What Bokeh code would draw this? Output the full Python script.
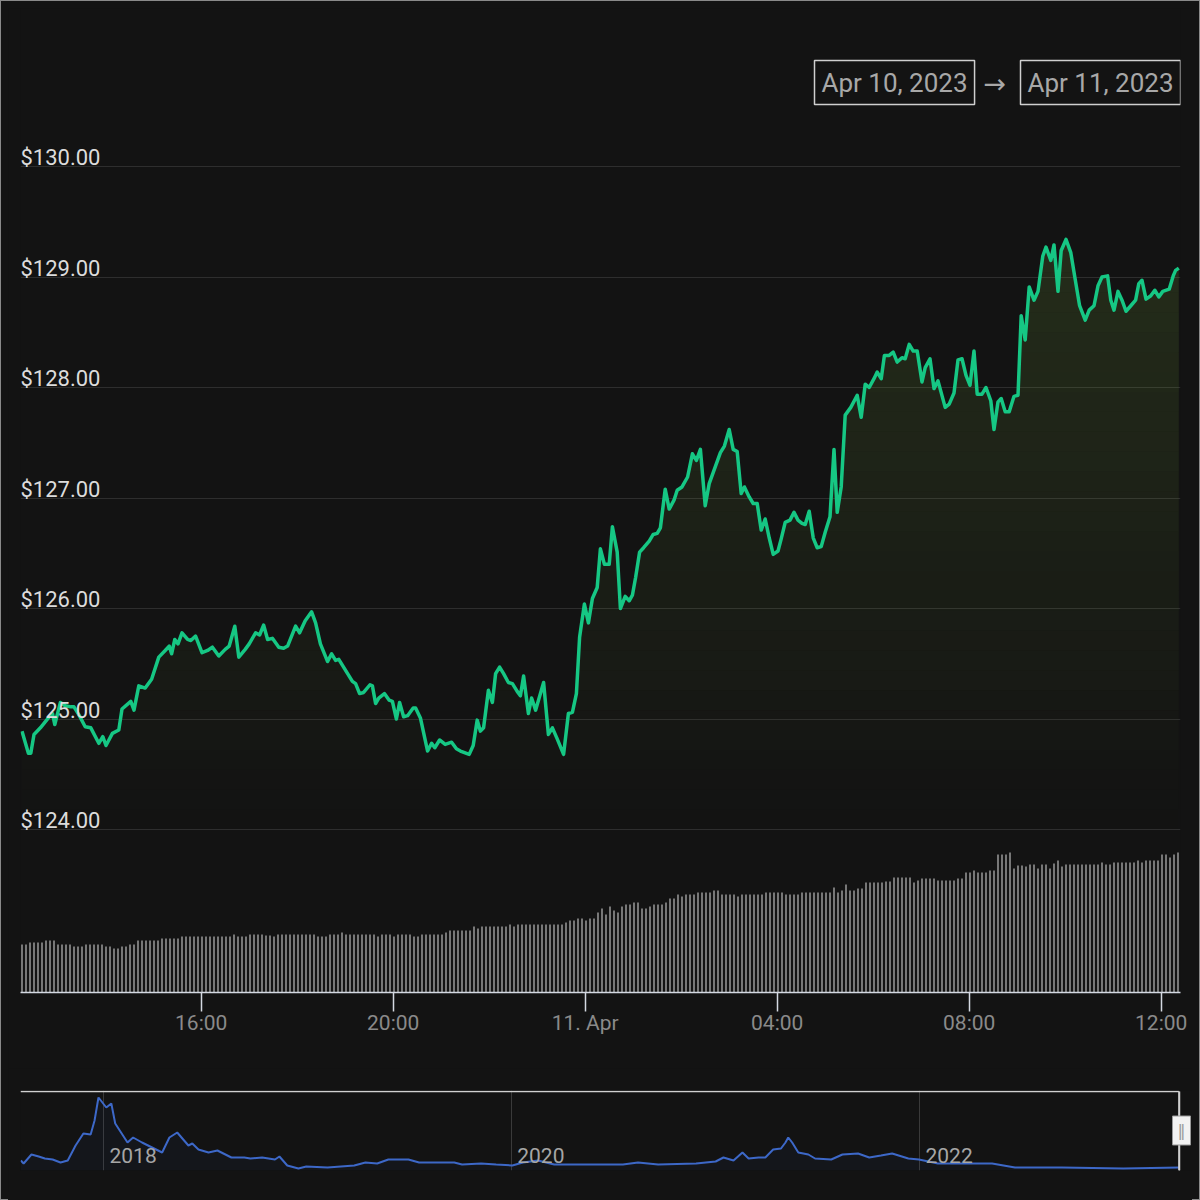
import numpy as np
import pandas as pd
from bokeh.plotting import figure
from bokeh.layouts import column
from bokeh.models import Range1d, FixedTicker, Label, GlobalInlineStyleSheet
from bokeh.core.properties import value
from bokeh.embed import file_html
from bokeh.resources import INLINE

# ---------------- data ----------------
START = "2023-04-10 12:16"          # first 5-minute sample
price_minutes = [
    0, 8, 11, 15, 23, 34, 38, 41, 48, 54, 61, 65, 71, 79, 86, 96, 101, 105, 113, 121,
    125, 136, 140, 146, 154, 162, 171, 179, 184, 187, 191, 195, 200, 207, 211, 217, 225, 232, 238, 246,
    254, 259, 266, 271, 279, 284, 292, 297, 302, 307, 313, 321, 327, 332, 342, 347, 354, 362, 367, 373,
    382, 387, 392, 396, 407, 413, 417, 422, 427, 435, 438, 442, 446, 453, 459, 463, 468, 472, 477, 482,
    489, 492, 498, 507, 512, 516, 522, 529, 537, 543, 548, 559, 564, 569, 573, 577, 583, 588, 592, 597,
    602, 608, 613, 619, 623, 627, 633, 637, 642, 652, 658, 663, 669, 677, 683, 688, 693, 697, 703, 708,
    713, 719, 723, 728, 734, 738, 744, 748, 754, 759, 763, 767, 772, 777, 784, 789, 794, 798, 804, 809,
    815, 819, 825, 832, 838, 843, 848, 854, 859, 867, 873, 878, 884, 889, 894, 899, 903, 909, 914, 919,
    924, 929, 934, 939, 945, 949, 954, 960, 965, 970, 975, 979, 984, 989, 994, 999, 1004, 1010, 1015, 1019,
    1024, 1029, 1036, 1044, 1049, 1054, 1059, 1065, 1069, 1074, 1078, 1084, 1089, 1094, 1100, 1104, 1109, 1114, 1119, 1125,
    1129, 1135, 1140, 1145, 1154, 1159, 1165, 1170, 1175, 1180, 1185, 1190, 1194, 1200, 1205, 1211, 1215, 1220, 1224, 1229,
    1234, 1240, 1245, 1249, 1254, 1259, 1265, 1270, 1276, 1280, 1286, 1290, 1295, 1299, 1305, 1311, 1316, 1322, 1329, 1334,
    1340, 1345, 1350, 1357, 1361, 1365, 1370, 1375, 1380, 1386, 1392, 1396, 1400, 1405, 1411, 1416, 1421, 1426, 1434, 1439,
    1442, 1446,
]
price_usd = [
    124.89, 124.69, 124.69, 124.86, 124.92, 125.02, 125.05, 124.95, 125.15, 125.12, 125.11, 125.11, 125.04, 124.93, 124.92, 124.78, 124.84, 124.76, 124.87, 124.90,
    125.09, 125.16, 125.08, 125.30, 125.28, 125.36, 125.56, 125.62, 125.66, 125.59, 125.72, 125.68, 125.78, 125.72, 125.71, 125.75, 125.60, 125.62, 125.65, 125.57,
    125.63, 125.66, 125.84, 125.56, 125.63, 125.68, 125.78, 125.76, 125.85, 125.72, 125.73, 125.65, 125.64, 125.66, 125.84, 125.78, 125.89, 125.97, 125.87, 125.68,
    125.52, 125.59, 125.53, 125.54, 125.41, 125.34, 125.32, 125.23, 125.24, 125.31, 125.30, 125.14, 125.19, 125.23, 125.17, 125.16, 125.00, 125.15, 125.02, 125.03,
    125.10, 125.10, 125.01, 124.71, 124.78, 124.74, 124.81, 124.77, 124.79, 124.73, 124.71, 124.68, 124.76, 124.99, 124.89, 124.92, 125.26, 125.15, 125.41, 125.47,
    125.41, 125.33, 125.32, 125.25, 125.21, 125.39, 125.05, 125.19, 125.08, 125.33, 124.86, 124.92, 124.82, 124.68, 125.05, 125.06, 125.23, 125.74, 126.04, 125.87,
    126.09, 126.19, 126.54, 126.40, 126.40, 126.74, 126.51, 126.00, 126.11, 126.07, 126.12, 126.28, 126.51, 126.55, 126.61, 126.67, 126.68, 126.73, 127.08, 126.90,
    126.98, 127.07, 127.10, 127.19, 127.40, 127.34, 127.44, 126.93, 127.13, 127.29, 127.41, 127.47, 127.62, 127.44, 127.42, 127.04, 127.10, 127.01, 126.95, 126.95,
    126.71, 126.81, 126.64, 126.49, 126.52, 126.63, 126.78, 126.80, 126.87, 126.80, 126.77, 126.76, 126.88, 126.64, 126.55, 126.56, 126.69, 126.83, 127.44, 126.87,
    127.10, 127.75, 127.82, 127.93, 127.73, 128.03, 128.00, 128.08, 128.14, 128.08, 128.29, 128.29, 128.32, 128.23, 128.27, 128.26, 128.39, 128.33, 128.33, 128.05,
    128.18, 128.26, 127.99, 128.06, 127.82, 127.85, 127.95, 128.25, 128.26, 128.11, 128.02, 128.33, 127.94, 127.94, 128.00, 127.88, 127.62, 127.87, 127.90, 127.78,
    127.78, 127.92, 127.93, 128.65, 128.43, 128.91, 128.79, 128.87, 129.19, 129.27, 129.15, 129.29, 128.87, 129.24, 129.34, 129.22, 129.00, 128.74, 128.61, 128.70,
    128.74, 128.92, 129.00, 129.01, 128.79, 128.70, 128.87, 128.79, 128.69, 128.74, 128.79, 128.94, 128.97, 128.80, 128.83, 128.88, 128.82, 128.87, 128.89, 129.01,
    129.06, 129.08,
]
# 24h volume, million USD, one bar every 5 minutes from START
volume_musd = [
    144, 144, 150, 150, 150, 150, 156, 156, 156, 144,
    144, 144, 144, 138, 138, 138, 144, 144, 144, 144,
    144, 138, 138, 132, 132, 138, 138, 144, 144, 156,
    156, 156, 156, 156, 156, 162, 162, 162, 162, 162,
    168, 168, 168, 168, 168, 168, 168, 168, 168, 168,
    168, 168, 168, 174, 168, 168, 168, 174, 174, 174,
    174, 171, 171, 168, 174, 174, 174, 174, 174, 174,
    174, 174, 174, 174, 168, 168, 168, 174, 174, 174,
    180, 174, 174, 174, 174, 174, 174, 174, 174, 168,
    174, 174, 174, 168, 174, 174, 174, 174, 168, 168,
    174, 174, 174, 174, 174, 174, 180, 186, 186, 186,
    186, 186, 186, 198, 192, 198, 198, 198, 198, 198,
    198, 198, 204, 198, 204, 204, 204, 204, 204, 204,
    204, 204, 204, 204, 204, 204, 210, 216, 216, 222,
    222, 216, 222, 222, 240, 252, 234, 258, 246, 240,
    258, 264, 264, 270, 270, 252, 252, 258, 264, 264,
    264, 270, 282, 282, 294, 288, 294, 294, 294, 300,
    300, 300, 300, 306, 306, 294, 294, 294, 294, 288,
    294, 294, 294, 294, 294, 294, 300, 300, 300, 300,
    300, 294, 294, 294, 294, 300, 300, 300, 300, 300,
    300, 300, 300, 315, 300, 306, 324, 306, 306, 312,
    312, 330, 330, 330, 330, 330, 333, 333, 345, 345,
    345, 345, 345, 330, 336, 342, 342, 342, 342, 336,
    336, 336, 336, 336, 342, 342, 360, 360, 366, 360,
    360, 360, 366, 366, 414, 414, 414, 420, 372, 381,
    381, 378, 384, 384, 372, 384, 384, 372, 387, 396,
    378, 384, 384, 384, 384, 384, 384, 384, 384, 384,
    390, 384, 384, 390, 390, 390, 390, 390, 390, 396,
    390, 396, 396, 396, 396, 414, 414, 405, 414, 420,
]
VOLUME_STEP_MIN = 5

x_tick_times = ["2023-04-10 16:00", "2023-04-10 20:00", "2023-04-11 00:00",
                "2023-04-11 04:00", "2023-04-11 08:00", "2023-04-11 12:00"]
x_tick_labels = ["16:00", "20:00", "11. Apr", "04:00", "08:00", "12:00"]
y_ticks = [124, 125, 126, 127, 128, 129, 130]
y_tick_labels = ["$124.00", "$125.00", "$126.00", "$127.00", "$128.00", "$129.00", "$130.00"]
range_from_label = "Apr 10, 2023"
range_to_label = "Apr 11, 2023"

nav_dates = [
    "2017-08-06", "2017-08-11", "2017-08-25", "2017-09-07", "2017-09-18", "2017-10-02", "2017-10-16", "2017-10-29",
    "2017-11-12", "2017-11-26", "2017-12-09", "2017-12-16", "2017-12-23", "2018-01-06", "2018-01-15", "2018-01-22",
    "2018-02-13", "2018-02-23", "2018-03-11", "2018-03-29", "2018-04-16", "2018-04-29", "2018-05-13", "2018-06-02",
    "2018-06-09", "2018-06-20", "2018-07-08", "2018-07-24", "2018-08-18", "2018-09-10", "2018-09-21", "2018-10-12",
    "2018-11-04", "2018-11-12", "2018-11-26", "2018-12-16", "2018-12-30", "2019-02-06", "2019-03-26", "2019-04-15",
    "2019-05-06", "2019-05-26", "2019-07-01", "2019-07-20", "2019-09-21", "2019-10-05", "2019-11-08", "2019-12-05",
    "2020-01-03", "2020-01-22", "2020-02-18", "2020-03-18", "2020-04-28", "2020-06-08", "2020-07-19", "2020-08-15",
    "2020-09-20", "2020-11-27", "2021-01-01", "2021-01-15", "2021-02-02", "2021-02-18", "2021-03-01", "2021-03-19",
    "2021-03-31", "2021-04-14", "2021-04-28", "2021-05-06", "2021-05-11", "2021-05-18", "2021-05-29", "2021-06-16",
    "2021-06-28", "2021-07-27", "2021-08-16", "2021-09-13", "2021-10-03", "2021-10-24", "2021-11-13", "2021-12-12",
    "2021-12-31", "2022-02-03", "2022-03-24", "2022-05-11", "2022-06-21", "2022-09-13", "2023-01-01", "2023-04-11",
]
nav_usd = [
    488, 335, 794, 692, 590, 539, 386, 488,
    1253, 1865, 1814, 2528, 3701, 3191, 3395, 2375,
    1406, 1661, 1406, 1151, 896, 1661, 1916, 1253,
    1355, 1049, 896, 998, 641, 641, 590, 641,
    539, 692, 233, 80, 182, 131, 233, 386,
    335, 539, 539, 386, 386, 284, 335, 284,
    233, 386, 488, 284, 284, 284, 284, 386,
    284, 335, 437, 641, 488, 896, 590, 641,
    641, 1049, 1100, 1406, 1661, 1406, 896, 794,
    590, 539, 794, 845, 641, 743, 845, 590,
    539, 335, 335, 335, 131, 131, 80, 129,
]
nav_tick_dates = ["2018-01-01", "2020-01-01", "2022-01-01"]
nav_tick_labels = ["2018", "2020", "2022"]

# ---------------- style / layout ----------------
BG = "#131313"
LINE = "#16c784"
FILL = "#8dc647"
FONT = "Roboto"

def ms(ts):
    return pd.DatetimeIndex(pd.to_datetime(ts)).asi8 / 1e6

t0 = pd.Timestamp(START)
price_t = (t0 + pd.to_timedelta(price_minutes, unit="m")).asi8 / 1e6
vol_t = (t0 + pd.to_timedelta(np.arange(len(volume_musd)) * VOLUME_STEP_MIN, unit="m")).asi8 / 1e6
MIN = 60000.0

# main pane geometry: 0.8 px per minute, 110.5 px per dollar
PX_PER_MIN = 0.8
frame_w = 1160
x_start = price_t[0] - 1.875 * MIN
x_end = x_start + frame_w / PX_PER_MIN * MIN
PX_PER_USD = 110.5
y_top = 130 + 158 / PX_PER_USD
y_bot = 124 - 163 / PX_PER_USD

p = figure(width=1184, height=1060, title=None, x_axis_type="datetime",
           x_range=Range1d(x_start, x_end), y_range=Range1d(y_bot, y_top),
           output_backend="svg", toolbar_location=None,
           min_border_left=12, min_border_right=12, min_border_top=0, min_border_bottom=76,
           background_fill_color=BG, border_fill_color=BG, outline_line_color=None)
p.yaxis.visible = False
p.xgrid.visible = False
p.ygrid.ticker = FixedTicker(ticks=y_ticks)
p.ygrid.grid_line_color = "#2e2e2e"
p.ygrid.grid_line_width = 1.2

# gradient fill under the line: stacked horizontal bands
def band_poly(xs, ys, lo, hi):
    ox, oy = [], []
    for i in range(len(xs)):
        if i > 0:
            x0, y0, x1, y1 = xs[i - 1], ys[i - 1], xs[i], ys[i]
            cuts = []
            for b in (lo, hi):
                if (y0 - b) * (y1 - b) < 0:
                    cuts.append((b - y0) / (y1 - y0))
            for t in sorted(cuts):
                ox.append(x0 + t * (x1 - x0))
                oy.append(y0 + t * (y1 - y0))
        ox.append(xs[i])
        oy.append(min(max(ys[i], lo), hi))
    return ox, oy

G_LO, G_HI, NB, A_TOP = 124.0, 129.4, 30, 0.15
for k in range(NB):
    lo = G_LO + (G_HI - G_LO) * k / NB
    hi = G_LO + (G_HI - G_LO) * (k + 1) / NB if k < NB - 1 else 200
    ox, oy = band_poly(list(price_t), price_usd, lo, hi)
    a = A_TOP * (k + 0.5) / NB
    p.varea(x=ox, y1=[lo] * len(ox), y2=oy, fill_color=FILL, fill_alpha=a)

# volume bars on their own scale (3 M$ per pixel)
p.extra_y_ranges = {"vol": Range1d(0, 984 * 3)}
p.vbar(x=vol_t, top=volume_musd, bottom=0, width=2.4 * MIN, y_range_name="vol",
       fill_color="#7d7d7d", line_color=None)

p.line(price_t, price_usd, line_color=LINE, line_width=3.5, line_join="round")

# y labels inside the plot
p.text(x=[x_start] * len(y_ticks), y=y_ticks, text=y_tick_labels,
       text_align="left", text_baseline="alphabetic", y_offset=-9,
       text_color="#dcdcdc", text_font=value(FONT), text_font_size="22px")

# time axis
tick_ms = [int(v) for v in ms(x_tick_times)]
ax = p.xaxis[0]
ax.ticker = FixedTicker(ticks=tick_ms, minor_ticks=[])
ax.major_label_overrides = {t: l for t, l in zip(tick_ms, x_tick_labels)}
ax.axis_line_color = "#d4d9e2"
ax.axis_line_width = 1.5
ax.major_tick_line_color = "#d4d9e2"
ax.major_tick_line_width = 1.5
ax.major_tick_in = 0
ax.major_tick_out = 19
ax.minor_tick_line_color = None
ax.major_label_standoff = -1
ax.major_label_text_color = "#8a8a8a"
ax.major_label_text_font = FONT
ax.major_label_text_font_size = "21px"

# range selector labels (screen units, from frame bottom-left)
box_kw = dict(x_units="screen", y_units="screen", text_align="left", text_baseline="middle",
              text_font=FONT, text_font_size="26px", text_color="#a8a8a8",
              border_line_color="#cfcfcf", border_line_width=1.5,
              background_fill_color=BG, padding=7)
p.add_layout(Label(x=794, y=910, text=range_from_label, **box_kw))
p.add_layout(Label(x=1000, y=910, text=range_to_label, **box_kw))
p.add_layout(Label(x=963, y=909, x_units="screen", y_units="screen", text="\u2192",
                   text_align="left", text_baseline="middle", text_font="DejaVu Sans",
                   text_font_size="27px", text_color="#a8a8a8"))

# ---------------- navigator ----------------
NAV_PX_PER_DAY = 204 / 365.25
DAY = 86400000.0
nav_free = "frame_align" in figure().properties()
nav_frame_w = 1172 if nav_free else 1160
nav_x0 = ms(["2018-01-01"])[0] - (103 - 20) / NAV_PX_PER_DAY * DAY
nav_x1 = nav_x0 + nav_frame_w / NAV_PX_PER_DAY * DAY
nav_y0, nav_y1 = -22, 4058

nav = figure(width=1184, height=124, title=None, x_axis_type="datetime",
             x_range=Range1d(nav_x0, nav_x1), y_range=Range1d(nav_y0, nav_y1),
             output_backend="svg", toolbar_location=None,
             min_border_left=12, min_border_right=1184 - 12 - nav_frame_w,
             min_border_top=22, min_border_bottom=22,
             background_fill_color=BG, border_fill_color=BG, outline_line_color=None)
if nav_free:
    nav.frame_align = False
    p.frame_align = False
nav.xaxis.visible = False
nav.yaxis.visible = False
nav.ygrid.visible = False
nav_ticks = [int(v) for v in ms(nav_tick_dates)]
nav.xgrid.ticker = FixedTicker(ticks=nav_ticks, minor_ticks=[])
nav.xgrid.grid_line_color = "#3a3a3a"
nav.xgrid.grid_line_width = 1

nav_t = ms(nav_dates)
nav.varea(x=nav_t, y1=[nav_y0] * len(nav_t), y2=nav_usd, fill_color="#335cad", fill_alpha=0.06)
nav.line(nav_t, nav_usd, line_color="#3d68c8", line_width=2)

span_y = nav_y1 - (nav_y1 - nav_y0) / 80 * 1.0
nav.text(x=nav_ticks, y=[nav_y0 + (nav_y1 - nav_y0) * 15 / 80] * 3, text=nav_tick_labels,
         x_offset=6, text_align="left", text_baseline="middle",
         text_color="#a6a6a6", text_font=value(FONT), text_font_size="21px")

sel_start, sel_end = price_t[0], price_t[-1]
nav.segment(x0=[nav_x0, sel_start, sel_start, sel_end], y0=[span_y, span_y, nav_y0, nav_y0],
            x1=[sel_start, sel_start, sel_end, sel_end], y1=[span_y, nav_y0, nav_y0, span_y],
            line_color="#d0d0d0", line_width=1.5)
y_mid = (nav_y0 + nav_y1) / 2
nav.add_layout(Label(x=sel_end, y=y_mid, x_offset=2 if nav_free else -8, text="\u2016",
                     text_align="center", text_baseline="middle", text_font="DejaVu Sans",
                     text_font_size="16px", text_color="#9a9a9a", background_fill_color="#f2f2f2",
                     border_line_color="#999999", border_line_width=1, padding=5))

layout = column(p, nav, spacing=0)
layout.stylesheets = [GlobalInlineStyleSheet(css=(
    "html{background:#131313;border:1px solid #8a8a8a;box-sizing:border-box;height:100%;overflow:hidden;}"
    "body{background:#131313;margin:7px;}"))]

open("out.html", "w").write(file_html(layout, INLINE))
